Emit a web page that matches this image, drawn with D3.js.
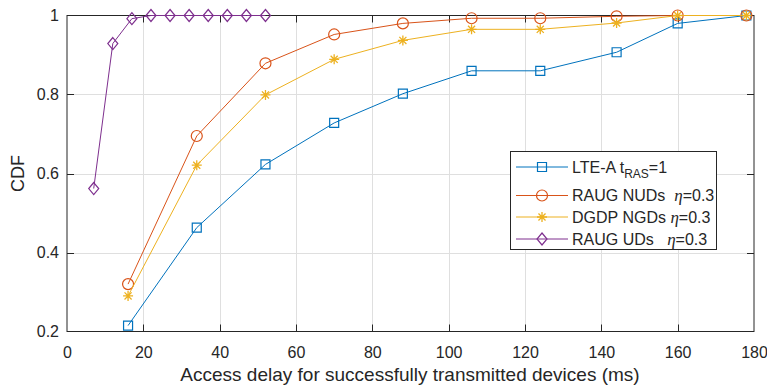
<!DOCTYPE html>
<html>
<head>
<meta charset="utf-8">
<script src="https://cdn.jsdelivr.net/npm/d3@7"></script>
<style>
  html, body { margin: 0; padding: 0; background: #fff; }
  svg { display: block; }
  text { font-family: "Liberation Sans", Arial, sans-serif; fill: #262626; }
</style>
</head>
<body>
<svg id="chart" width="767" height="385"></svg>
<script>
// Access delay (ms) at which each CDF sample was taken
const delayNGD = [16, 34, 52, 70, 88, 106, 124, 144, 160, 178];
const delayUD = [7, 12, 17, 22, 27, 32, 37, 42, 47, 52];

// CDF values per scheme
const lteA = [0.215, 0.463, 0.623, 0.728, 0.802, 0.86, 0.86, 0.907, 0.98, 1.0];
const raugNUDs = [0.32, 0.695, 0.879, 0.952, 0.98, 0.993, 0.993, 0.998, 1.0, 1.0];
const dgdpNGDs = [0.29, 0.621, 0.799, 0.889, 0.937, 0.965, 0.965, 0.981, 1.0, 1.0];
const raugUDs = [0.562, 0.929, 0.992, 1.0, 1.0, 1.0, 1.0, 1.0, 1.0, 1.0];

// Axis ticks
const xTicks = [0, 20, 40, 60, 80, 100, 120, 140, 160, 180];
const yTicks = [0.2, 0.4, 0.6, 0.8, 1];

const series = [
  { name: "lte", xs: delayNGD, ys: lteA, color: "#0072BD", marker: "square" },
  { name: "nud", xs: delayNGD, ys: raugNUDs, color: "#D95319", marker: "circle" },
  { name: "ngd", xs: delayNGD, ys: dgdpNGDs, color: "#EDB120", marker: "star" },
  { name: "ud", xs: delayUD, ys: raugUDs, color: "#7E2F8E", marker: "diamond" }
];

const svg = d3.select("#chart");
const plotL = 67, plotR = 754, plotT = 15.5, plotB = 331.5;

const x = d3.scaleLinear().domain([0, 180]).range([plotL, plotR]);
const y = d3.scaleLinear().domain([0.2, 1]).range([plotB, plotT]);

const axisColor = "#262626";
const gridColor = "#dfdfdf";

// grid
const grid = svg.append("g");
grid.selectAll("line.gx").data(xTicks.slice(1, -1)).join("line")
  .attr("x1", d => Math.round(x(d)) + 0.5).attr("x2", d => Math.round(x(d)) + 0.5)
  .attr("y1", plotT).attr("y2", plotB)
  .attr("stroke", gridColor).attr("stroke-width", 1);
grid.selectAll("line.gy").data(yTicks.slice(1, -1)).join("line")
  .attr("y1", d => Math.round(y(d)) + 0.5).attr("y2", d => Math.round(y(d)) + 0.5)
  .attr("x1", plotL).attr("x2", plotR)
  .attr("stroke", gridColor).attr("stroke-width", 1);

// axes box (drawn under the data so markers on the edge stay visible)
const axes = svg.append("g");
axes.append("rect")
  .attr("x", plotL).attr("y", plotT)
  .attr("width", plotR - plotL).attr("height", plotB - plotT)
  .attr("fill", "none").attr("stroke", axisColor).attr("stroke-width", 1);

// marker shapes
function markerPath(type) {
  switch (type) {
    case "square": return "M-4.5,-4.5H4.5V4.5H-4.5Z";
    case "circle": return d3.symbol(d3.symbolCircle, Math.PI * 5.5 * 5.5)();
    case "diamond": return "M0,-6L5,0L0,6L-5,0Z";
    case "star": {
      const r = 5;
      const d = r * Math.SQRT1_2;
      return `M${-r},0H${r}M0,${-r}V${r}M${-d},${-d}L${d},${d}M${-d},${d}L${d},${-d}`;
    }
  }
}

const line = d3.line();

const plot = svg.append("g");
series.forEach(s => {
  const pts = s.xs.map((xv, i) => [x(xv), y(s.ys[i])]);
  const g = plot.append("g").attr("class", s.name);
  g.append("path")
    .attr("d", line(pts))
    .attr("fill", "none")
    .attr("stroke", s.color)
    .attr("stroke-width", 1);
  g.selectAll("path.m").data(pts).join("path")
    .attr("class", "m")
    .attr("transform", d => `translate(${d[0]},${d[1]})`)
    .attr("d", markerPath(s.marker))
    .attr("fill", "none")
    .attr("stroke", s.color)
    .attr("stroke-width", s.marker === "star" ? 1.3 : 1.2);
});

const xAxis = d3.axisBottom(x).tickValues(xTicks).tickSize(0).tickPadding(15).tickFormat(d3.format("d"));
const yAxis = d3.axisLeft(y).tickValues(yTicks).tickSize(0).tickPadding(8).tickFormat(d => d === 1 ? "1" : d3.format(".1f")(d));

const gx = axes.append("g").attr("transform", `translate(0,${plotB})`).call(xAxis);
const gy = axes.append("g").attr("transform", `translate(${plotL},0)`).call(yAxis);
[gx, gy].forEach(g => {
  g.select(".domain").remove();
  g.selectAll("text").attr("font-size", 16).attr("fill", axisColor)
    .style("font-family", "'Liberation Sans', Arial, sans-serif");
});

// inward tick marks on all four sides
const tl = 7;
xTicks.slice(1, -1).forEach(t => {
  const px = Math.round(x(t)) + 0.5;
  axes.append("line").attr("x1", px).attr("x2", px).attr("y1", plotB).attr("y2", plotB - tl).attr("stroke", axisColor);
  axes.append("line").attr("x1", px).attr("x2", px).attr("y1", plotT).attr("y2", plotT + tl).attr("stroke", axisColor);
});
yTicks.slice(1, -1).forEach(t => {
  const py = Math.round(y(t)) + 0.5;
  axes.append("line").attr("y1", py).attr("y2", py).attr("x1", plotL).attr("x2", plotL + tl).attr("stroke", axisColor);
  axes.append("line").attr("y1", py).attr("y2", py).attr("x1", plotR).attr("x2", plotR - tl).attr("stroke", axisColor);
});

// axis titles
svg.append("text")
  .attr("x", 410).attr("y", 381)
  .attr("text-anchor", "middle").attr("font-size", 19)
  .text("Access delay for successfully transmitted devices (ms)");

svg.append("text")
  .attr("transform", `translate(24,${(plotT + plotB) / 2}) rotate(-90)`)
  .attr("text-anchor", "middle").attr("font-size", 18)
  .text("CDF");

// legend
const legend = svg.append("g");
legend.append("rect")
  .attr("x", 510.5).attr("y", 151.5).attr("width", 206).attr("height", 98)
  .attr("fill", "#fff").attr("stroke", axisColor).attr("stroke-width", 1);

const rowsY = [167, 195.5, 217, 239];
const labels = [
  { main: "LTE-A t", sub: "RAS", tail: "=1" },
  { main: "RAUG NUDs\u00a0\u00a0", eta: true },
  { main: "DGDP NGDs\u00a0", eta: true },
  { main: "RAUG UDs\u00a0\u00a0\u00a0", eta: true }
];

series.forEach((s, i) => {
  const ry = rowsY[i];
  legend.append("line")
    .attr("x1", 516).attr("x2", 568).attr("y1", ry).attr("y2", ry)
    .attr("stroke", s.color).attr("stroke-width", 1);
  legend.append("path")
    .attr("transform", `translate(542,${ry})`)
    .attr("d", markerPath(s.marker))
    .attr("fill", "none").attr("stroke", s.color)
    .attr("stroke-width", s.marker === "star" ? 1.3 : 1.2);
  const lab = labels[i];
  const t = legend.append("text").attr("x", 572).attr("y", ry + 5.5).attr("font-size", 16);
  t.append("tspan").text(lab.main);
  if (lab.sub) {
    t.append("tspan").attr("font-size", 12).attr("dy", 5).text(lab.sub);
    t.append("tspan").attr("dy", -5).text(lab.tail);
  }
  if (lab.eta) {
    t.append("tspan")
      .style("font-family", "'Liberation Serif', 'Times New Roman', serif")
      .style("font-style", "italic")
      .attr("font-size", 17)
      .text("\u03b7");
    t.append("tspan").text("=0.3");
  }
});
</script>
</body>
</html>
